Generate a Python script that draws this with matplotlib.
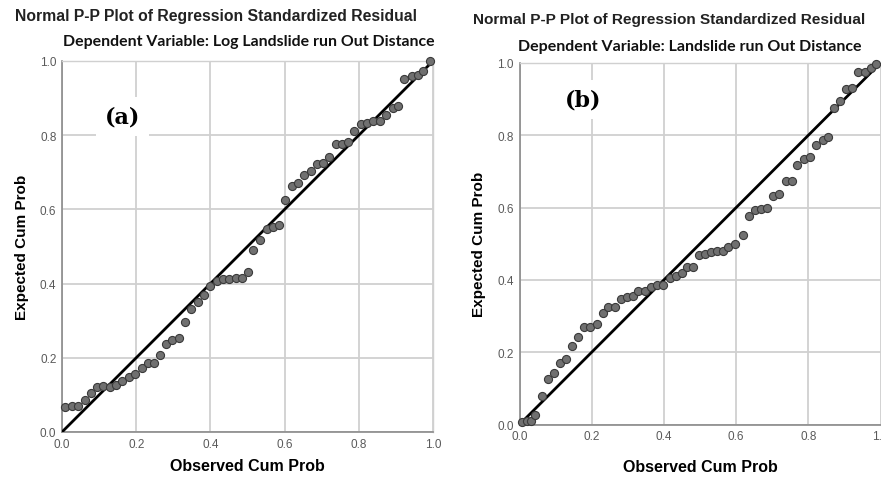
import matplotlib
matplotlib.use("Agg")
import matplotlib.pyplot as plt

# panel (a): Log landslide run out distance
obs_a = [0.008, 0.026, 0.044, 0.062, 0.078, 0.093, 0.111, 0.129, 0.145, 0.163,
         0.181, 0.197, 0.215, 0.231, 0.248, 0.264, 0.280, 0.296, 0.315, 0.332,
         0.348, 0.366, 0.383, 0.400, 0.418, 0.433, 0.450, 0.468, 0.484, 0.500,
         0.516, 0.534, 0.552, 0.568, 0.586, 0.601, 0.619, 0.637, 0.653, 0.670,
         0.686, 0.704, 0.720, 0.738, 0.756, 0.772, 0.788, 0.806, 0.821, 0.839,
         0.857, 0.873, 0.891, 0.907, 0.923, 0.943, 0.959, 0.974, 0.992]
exp_a = [0.067, 0.071, 0.071, 0.087, 0.105, 0.120, 0.125, 0.120, 0.127, 0.137,
         0.147, 0.156, 0.172, 0.186, 0.185, 0.208, 0.236, 0.249, 0.253, 0.297,
         0.332, 0.351, 0.369, 0.393, 0.408, 0.412, 0.412, 0.414, 0.414, 0.430,
         0.490, 0.518, 0.547, 0.553, 0.558, 0.624, 0.664, 0.670, 0.694, 0.704,
         0.722, 0.725, 0.740, 0.776, 0.776, 0.783, 0.812, 0.831, 0.833, 0.839,
         0.839, 0.855, 0.872, 0.880, 0.951, 0.960, 0.962, 0.974, 1.000]

# panel (b): landslide run out distance
obs_b = [0.006, 0.020, 0.031, 0.043, 0.061, 0.078, 0.096, 0.112, 0.129, 0.145,
         0.163, 0.180, 0.195, 0.214, 0.230, 0.246, 0.265, 0.280, 0.297, 0.314,
         0.329, 0.348, 0.363, 0.382, 0.398, 0.417, 0.433, 0.449, 0.465, 0.481,
         0.498, 0.514, 0.530, 0.546, 0.563, 0.578, 0.597, 0.618, 0.636, 0.652,
         0.669, 0.686, 0.703, 0.720, 0.737, 0.754, 0.770, 0.788, 0.805, 0.821,
         0.840, 0.855, 0.871, 0.888, 0.904, 0.922, 0.939, 0.957, 0.973, 0.987]
exp_b = [0.008, 0.011, 0.011, 0.026, 0.080, 0.126, 0.142, 0.169, 0.181, 0.217,
         0.241, 0.269, 0.271, 0.278, 0.309, 0.325, 0.325, 0.348, 0.354, 0.355,
         0.368, 0.369, 0.380, 0.385, 0.387, 0.406, 0.412, 0.419, 0.437, 0.437,
         0.468, 0.472, 0.477, 0.481, 0.481, 0.491, 0.500, 0.523, 0.576, 0.592,
         0.595, 0.599, 0.632, 0.637, 0.673, 0.674, 0.717, 0.735, 0.740, 0.772,
         0.786, 0.796, 0.876, 0.894, 0.929, 0.931, 0.974, 0.974, 0.987, 0.996]

ticks = [0.0, 0.2, 0.4, 0.6, 0.8, 1.0]
tick_labels = ["0.0", "0.2", "0.4", "0.6", "0.8", "1.0"]

fig = plt.figure(figsize=(8.81, 4.81), dpi=100)
fig.patch.set_facecolor("white")

W, H = 881.0, 481.0


def make_axes(l, r, t, b):
    return fig.add_axes([l / W, 1 - b / H, (r - l) / W, (b - t) / H])


def draw_panel(ax, obs, exp, tag, tag_xy, xpad):
    ax.set_xlim(0, 1)
    ax.set_ylim(0, 1)
    ax.set_xticks(ticks)
    ax.set_yticks(ticks)
    ax.set_xticklabels(tick_labels)
    ax.set_yticklabels(tick_labels)
    ax.grid(True, color="#d0d0d0", linewidth=1.3)
    ax.set_axisbelow(True)
    for side in ["top", "right"]:
        ax.spines[side].set_color("#d0d0d0")
        ax.spines[side].set_linewidth(1.0)
    for side in ["left", "bottom"]:
        ax.spines[side].set_color("#8a8a8a")
        ax.spines[side].set_linewidth(1.2)
    ax.tick_params(length=0, labelsize=8.5, labelcolor="#5a5a5a", pad=4)
    for lab in ax.get_xticklabels() + ax.get_yticklabels():
        lab.set_family("Liberation Sans")
    ax.plot([0, 1], [0, 1], color="black", linewidth=2.0, zorder=3)
    ax.scatter(obs, exp, s=34, color="#707070", edgecolors="#3a3a3a",
               linewidths=0.8, zorder=4, clip_on=False)
    ax.set_xlabel("Observed Cum Prob", family="Liberation Sans",
                  fontweight="bold", fontsize=11.5, labelpad=xpad)
    ax.set_ylabel("Expected Cum Prob", family="Liberation Sans",
                  fontweight="bold", fontsize=11, labelpad=8)
    ax.text(tag_xy[0], tag_xy[1], tag, transform=ax.transAxes,
            family="DejaVu Serif", fontweight="bold", fontsize=16,
            ha="center", va="center", zorder=5,
            bbox=dict(facecolor="white", edgecolor="none", pad=6))


ax_a = make_axes(62, 433, 62, 433)
draw_panel(ax_a, obs_a, exp_a, "(a)", (0.163, 0.85), 6)

ax_b = make_axes(519.5, 880.5, 64, 425.5)
draw_panel(ax_b, obs_b, exp_b, "(b)", (0.175, 0.90), 12)

fig.text(15 / W, 1 - 17 / H, "Normal P-P Plot of Regression Standardized Residual",
         family="Liberation Sans", fontweight="bold", fontsize=11.3,
         color="#222222", ha="left", va="center")
fig.text(63 / W, 1 - 42 / H, "Dependent Variable: Log Landslide run Out Distance",
         family="Lato", fontweight="bold", fontsize=11.4,
         color="#111111", ha="left", va="center")
fig.text(473 / W, 1 - 20 / H, "Normal P-P Plot of Regression Standardized Residual",
         family="Liberation Sans", fontweight="bold", fontsize=11.1,
         color="#222222", ha="left", va="center")
fig.text(518 / W, 1 - 47 / H, "Dependent Variable: Landslide run Out Distance",
         family="Lato", fontweight="bold", fontsize=11.5,
         color="#111111", ha="left", va="center")

fig.savefig("out.png", dpi=100, facecolor="white")
